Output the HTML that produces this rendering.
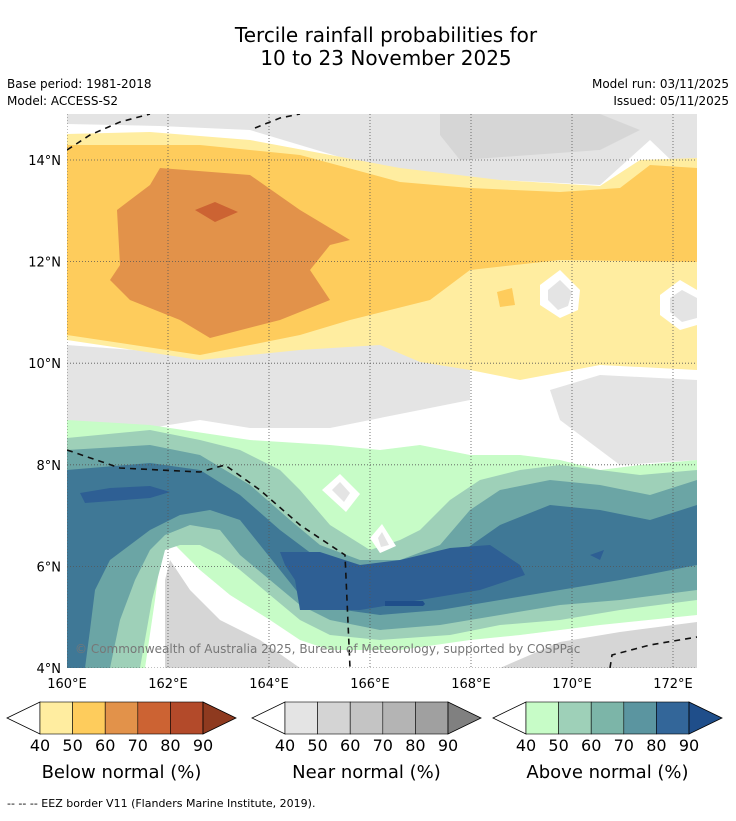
<!DOCTYPE html>
<html><head><meta charset="utf-8"><style>
body{margin:0;background:#fff;font-family:"Liberation Sans",sans-serif}
svg text{font-family:"DejaVu Sans","Liberation Sans",sans-serif}
</style></head><body>
<svg id="s" width="736" height="816" xmlns="http://www.w3.org/2000/svg">
<text x="386" y="42" font-size="20" text-anchor="middle">Tercile rainfall probabilities for</text>
<text x="386" y="65" font-size="20" text-anchor="middle">10 to 23 November 2025</text>
<text x="7" y="88" font-size="12">Base period: 1981-2018</text>
<text x="7" y="105" font-size="12">Model: ACCESS-S2</text>
<text x="729" y="88" font-size="12" text-anchor="end">Model run: 03/11/2025</text>
<text x="729" y="105" font-size="12" text-anchor="end">Issued: 05/11/2025</text>
<g id="map"></g>
<g id="axes"></g>
<g id="bars"></g>
<text x="7" y="807" font-size="11">--  --  -- EEZ border V11 (Flanders Marine Institute, 2019).</text>
</svg>
<script>
const lonTicks=[160,162,164,166,168,170,172];
const latTicks=[4,6,8,10,12,14];
const barLevels=[40,50,60,70,80,90];
const belowColors=["#FFEDA0","#FECC5C","#E2924A","#CC6333","#B34A2A","#8E3A1F"];
const nearColors=["#E4E4E4","#D4D4D4","#C4C4C4","#B4B4B4","#A0A0A0","#808080"];
const aboveColors=["#C7FCC7","#9ED0B8","#7CB5A8","#5B95A0","#336699","#1F4E8A"];
const barTitles=["Below normal (%)","Near normal (%)","Above normal (%)"];
// map contour geometry (pixel space within map frame)
const contours=[
["#E4E4E4","67,114 697,114 697,185 650,140 600,185 400,175 250,130 160,126 67,124"],
["#D6D6D6","440,114 600,114 640,130 600,150 460,160 440,135"],
["#E4E4E4","67,345 200,355 380,340 470,360 470,400 420,410 330,428 250,428 200,420 150,428 67,425"],
["#E4E4E4","550,390 600,375 697,380 697,460 620,465 600,450 560,420"],
["#FFEDA0","67,134 150,132 250,140 400,168 500,180 600,186 640,160 697,158 697,370 600,365 520,380 470,370 420,362 380,345 300,350 200,360 67,340"],
["#FECC5C","67,145 200,145 300,155 400,182 470,188 560,192 620,188 650,165 697,168 697,262 560,260 470,270 430,300 350,320 300,335 200,355 67,335"],
["#E2924A","117,210 150,185 160,168 250,175 300,210 350,240 330,245 310,270 330,300 280,320 210,338 180,320 130,300 110,280 120,265"],
["#CC6333","195,210 215,202 238,212 215,222"],
["#FFFFFF","540,285 560,270 580,290 578,310 560,318 540,305"],
["#E4E4E4","548,290 560,280 572,292 568,306 558,310 548,300"],
["#FFFFFF","660,295 680,280 697,290 697,325 680,330 660,315"],
["#E4E4E4","670,298 682,290 697,298 697,318 682,322 670,312"],
["#FECC5C","497,292 512,288 515,305 500,307"],
["#C7FCC7","67,420 150,425 250,440 330,445 380,450 420,445 470,455 520,455 560,460 600,470 640,465 697,460 697,615 600,625 520,635 470,640 400,650 330,650 300,640 270,620 230,595 200,570 175,545 162,545 155,600 145,668 67,668"],
["#D6D6D6","170,560 190,590 220,620 260,640 300,668 165,668 165,580"],
["#D6D6D6","500,668 560,642 620,632 697,622 697,668"],
["#9ED0B8","67,438 150,430 200,440 240,450 280,470 300,490 330,525 370,550 400,540 420,530 450,500 480,480 520,470 560,465 600,470 640,475 697,470 697,600 620,610 560,620 500,625 450,635 380,640 330,635 300,620 270,595 240,570 220,555 200,545 180,545 165,550 152,600 140,668 67,668"],
["#6BA5A5","67,450 150,445 200,455 250,485 290,520 320,545 360,560 400,560 440,545 470,510 500,490 550,480 600,485 650,495 697,480 697,590 620,600 560,605 500,615 440,625 380,630 330,620 300,605 270,580 240,555 220,530 190,525 165,535 150,550 135,580 120,620 110,668 67,668"],
["#3F7896","67,470 150,463 200,470 240,495 280,530 320,560 360,575 400,575 450,560 500,525 550,505 600,510 650,520 697,505 697,565 620,580 560,590 500,600 440,610 380,615 330,608 300,595 280,570 260,545 240,520 210,510 180,515 150,530 130,545 110,560 95,590 90,630 85,668 67,668"],
["#2E5F94","80,493 110,488 150,486 170,492 150,498 85,503"],
["#2E5F94","280,552 320,552 360,565 400,560 450,548 490,545 520,565 525,575 480,590 420,600 360,610 300,610 295,580 285,565"],
["#2E5F94","590,555 604,550 600,560"],
["#1F4E8A","385,601 423,601 425,604 423,606 385,606"],
["#FFFFFF","322,490 340,474 360,494 346,512"],
["#E4E4E4","332,490 340,482 350,493 344,502"],
["#FFFFFF","370,538 382,524 396,546 380,553"],
["#E4E4E4","378,538 382,532 389,545 381,547"]
];
const eez=["67,150 90,135 120,122 150,114","255,128 280,118 300,114","67,450 120,468 200,472 225,465 260,490 300,525 345,555 347,600 350,668","610,668 612,655 650,645 697,637"];
const NS="http://www.w3.org/2000/svg";
function mk(t,a,p){const e=document.createElementNS(NS,t);for(const k in a)e.setAttribute(k,a[k]);p.appendChild(e);return e;}
const X0=67,X1=697,Y0=114,Y1=668;
const xS=lon=>X0+(lon-160)*50.5;
const yS=lat=>Y1-(lat-4)*50.8;
const map=document.getElementById('map');
mk('rect',{x:X0,y:Y0,width:X1-X0,height:Y1-Y0,fill:'#fff'},map);
const clip=mk('clipPath',{id:'c'},map);mk('rect',{x:X0,y:Y0,width:X1-X0,height:Y1-Y0},clip);
const g=mk('g',{'clip-path':'url(#c)'},map);
contours.forEach((c,i)=>{const p=mk('polygon',{points:c[1],fill:c[0]},g);

});
lonTicks.forEach(l=>{const ln=mk('line',{x1:xS(l),x2:xS(l),y1:Y0,y2:Y1,stroke:'#555','stroke-width':0.8,'stroke-dasharray':'1,2'},g);

});
latTicks.forEach(l=>{const ln=mk('line',{x1:X0,x2:X1,y1:yS(l),y2:yS(l),stroke:'#555','stroke-width':0.8,'stroke-dasharray':'1,2'},g);

});
eez.forEach(e=>{const p=mk('polyline',{points:e,fill:'none',stroke:'#111','stroke-width':1.6,'stroke-dasharray':'6,5'},g);

});
const cp=mk('text',{x:75,y:653,'font-size':12,fill:'#777'},g);cp.textContent="© Commonwealth of Australia 2025, Bureau of Meteorology, supported by COSPPac";


const ax=document.getElementById('axes');
lonTicks.forEach(l=>{const t=mk('text',{x:xS(l),y:688,'font-size':13,'text-anchor':'middle'},ax);t.textContent=l+"°E";

});
latTicks.forEach(l=>{const t=mk('text',{x:61,y:yS(l)+5,'font-size':13,'text-anchor':'end'},ax);t.textContent=l+"°N";

});
const bars=document.getElementById('bars');
const starts=[40,285,526],w=32.6;
[belowColors,nearColors,aboveColors].forEach((cols,b)=>{
 const x0=starts[b],yT=702,yB=734,n=barLevels.length-1,xe=x0+n*w;
 mk('polygon',{points:`${x0-33},${(yT+yB)/2} ${x0},${yT} ${x0},${yB}`,fill:'#fff',stroke:'#000','stroke-width':0.8},bars);
 for(let i=0;i<n;i++){const r=mk('rect',{x:x0+i*w,y:yT,width:w,height:yB-yT,fill:cols[i],stroke:'#000','stroke-width':0.6},bars);
 
 }
 mk('polygon',{points:`${xe},${yT} ${xe+33},${(yT+yB)/2} ${xe},${yB}`,fill:cols[5],stroke:'#000','stroke-width':0.8},bars);
 barLevels.forEach((v,i)=>{const t=mk('text',{x:x0+i*w,y:751,'font-size':16,'text-anchor':'middle'},bars);t.textContent=v;
 
 });
 const tt=mk('text',{x:x0+n*w/2,y:778,'font-size':18,'text-anchor':'middle'},bars);tt.textContent=barTitles[b];
 
 
});
</script>
</body></html>
